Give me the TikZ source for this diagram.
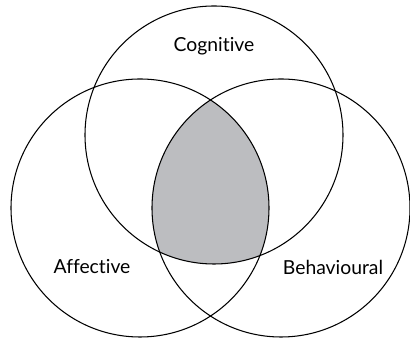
\documentclass[tikz,border=0pt]{standalone}
\usepackage{fontspec}
\setmainfont{Lato}[Ligatures={NoCommon,NoRare,NoDiscretionary}]
\definecolor{lensgray}{RGB}{188,189,192}

\begin{document}
\begin{tikzpicture} [
    x=0.03cm, y=0.03cm,
    ring/.style   = { draw, line width=0.9pt },
    vlabel/.style = { text centered, inner sep=0pt,
                      font=\fontsize{16.5}{19}\selectfont },
  ]

  \useasboundingbox (0,0) rectangle (410,340);

  % circle centres
  \coordinate (cog) at (214,205);
  \coordinate (aff) at (140,132);
  \coordinate (beh) at (281,132);

  % shaded common part
  \begin{scope}
    \clip (cog) circle (129);
    \clip (aff) circle (129);
    \fill [lensgray] (beh) circle (129);
  \end{scope}

  % the three sets
  \path [ring] (cog) circle (129);
  \path [ring] (aff) circle (129);
  \path [ring] (beh) circle (129);

  % set names
  \node[vlabel] (cognitive)   at (214,294) {Cognitive};
  \node[vlabel] (affective)   at (92,73)   {Affective};
  \node[vlabel] (behavioural) at (333,73)  {Behavioural};
\end{tikzpicture}
\end{document}
